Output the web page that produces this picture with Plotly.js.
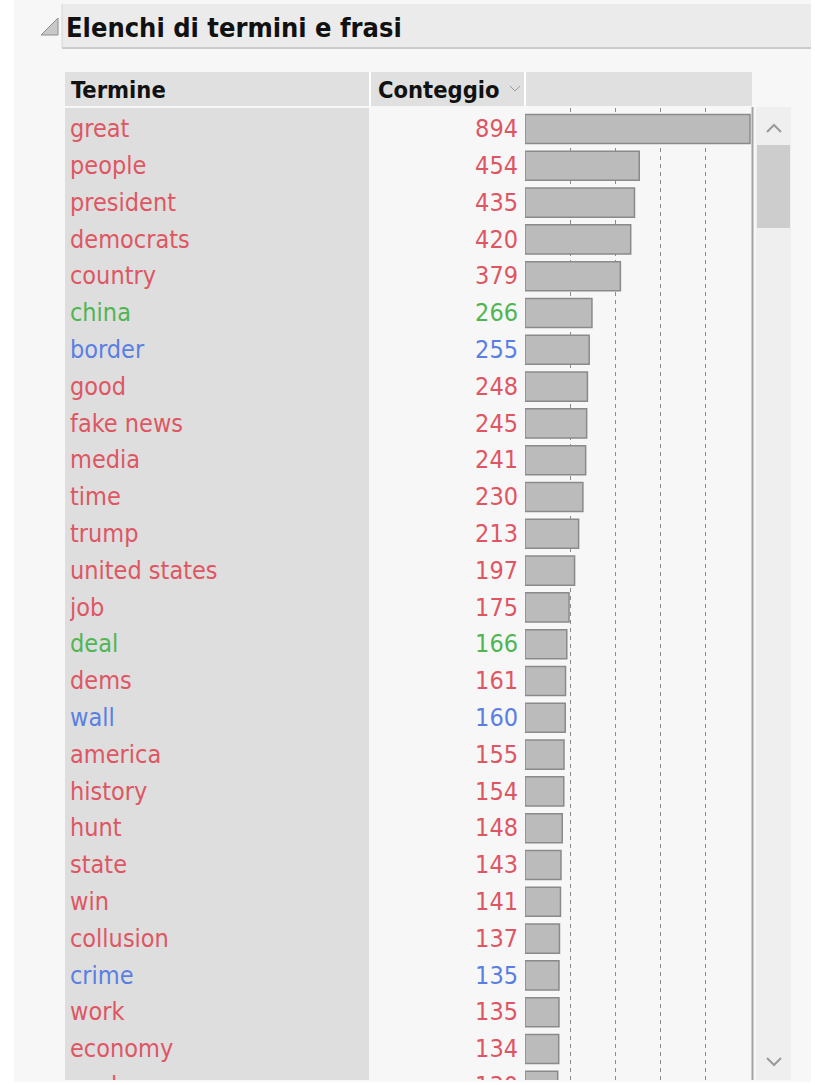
<!DOCTYPE html>
<html>
<head>
<meta charset="utf-8">
<script src="https://cdn.plot.ly/plotly-3.0.1.min.js"></script>
<style>html,body{margin:0;padding:0;background:#fff;}#chart{width:815px;height:1085px;}</style>
</head>
<body>
<div id="chart"></div>
<script>
// ---- data ----
const terms = ["great","people","president","democrats","country","china","border","good","fake news","media","time","trump","united states","job","deal","dems","wall","america","history","hunt","state","win","collusion","crime","work","economy","nuclear"];
const counts = [894,454,435,420,379,266,255,248,245,241,230,213,197,175,166,161,160,155,154,148,143,141,137,135,135,134,130];
const tones = ["r","r","r","r","r","g","b","r","r","r","r","r","r","r","g","r","b","r","r","r","r","r","r","b","r","r","r"];
const titleText = "Elenchi di termini e frasi";
const headerTerm = "Termine";
const headerCount = "Conteggio";

// ---- styling ----
const W = 815, H = 1085;
const FONT = '"Liberation Sans Narrow", "Arial Narrow", "DejaVu Sans Condensed", sans-serif';
const toneColor = {r: "#df5663", g: "#4fb553", b: "#5a7fe3"};
const colors = tones.map(t => toneColor[t]);
const px = v => v / W;
const py = v => 1 - v / H;
const P = (x, y) => px(x) + "," + py(y);

const rowTop = 108, rowBottom = 1080, firstCenter = 129, pitch = 36.8;
const yRange = [(rowBottom - firstCenter) / pitch, -(firstCenter - rowTop) / pitch];
const textShift = 2 / pitch;
const yRangeText = [yRange[0] - textShift, yRange[1] - textShift];
const maxVal = Math.max(...counts);
const barX0 = 525, barX1 = 752, barFull = 750;
const xMax = maxVal * (barX1 - barX0) / (barFull - barX0);
const gridVals = [1, 2, 3, 4].map(k => maxVal * k / 5);

const traces = [
  {
    type: "bar", orientation: "h", x: counts, y: terms,
    xaxis: "x", yaxis: "y", width: 0.79,
    marker: {color: "#bbbbbb", line: {color: "#8a8a8a", width: 1.5}},
    hoverinfo: "skip"
  },
  {
    type: "scatter", mode: "text", x: terms.map(() => 0), y: terms,
    xaxis: "x2", yaxis: "y2", text: terms, textposition: "middle right",
    textfont: {family: FONT, size: 25, color: colors}, hoverinfo: "skip", cliponaxis: true
  },
  {
    type: "scatter", mode: "text", x: counts.map(() => 1), y: terms,
    xaxis: "x3", yaxis: "y2", text: counts.map(String), textposition: "middle left",
    textfont: {family: FONT, size: 25, color: colors}, hoverinfo: "skip", cliponaxis: true
  }
];

const shapes = [
  {type: "rect", xref: "paper", yref: "paper", x0: px(14), x1: px(811), y0: py(1082), y1: py(0), fillcolor: "#f7f7f7", line: {width: 0}, layer: "below"},
  {type: "rect", xref: "paper", yref: "paper", x0: px(62), x1: px(811), y0: py(48), y1: py(4), fillcolor: "#ebebeb", line: {width: 0}, layer: "below"},
  {type: "line", xref: "paper", yref: "paper", x0: px(62), x1: px(811), y0: py(48), y1: py(48), line: {color: "#cbcbcb", width: 2}, layer: "below"},
  {type: "line", xref: "paper", yref: "paper", x0: px(62), x1: px(62), y0: py(4), y1: py(48), line: {color: "#d6d6d6", width: 1}, layer: "below"},
  {type: "path", xref: "paper", yref: "paper", path: "M" + P(41, 35) + "L" + P(58, 35) + "L" + P(58, 18) + "Z", fillcolor: "#c8c8c8", line: {color: "#8e8e8e", width: 1}, layer: "below"},
  {type: "rect", xref: "paper", yref: "paper", x0: px(65), x1: px(752), y0: py(106), y1: py(72), fillcolor: "#e0e0e0", line: {width: 0}, layer: "below"},
  {type: "line", xref: "paper", yref: "paper", x0: px(370), x1: px(370), y0: py(72), y1: py(106), line: {color: "#ffffff", width: 2}, layer: "below"},
  {type: "line", xref: "paper", yref: "paper", x0: px(525), x1: px(525), y0: py(72), y1: py(106), line: {color: "#ffffff", width: 2}, layer: "below"},
  {type: "rect", xref: "paper", yref: "paper", x0: px(65), x1: px(369), y0: py(1080), y1: py(108), fillcolor: "#dedede", line: {width: 0}, layer: "below"},
  {type: "path", xref: "paper", yref: "paper", path: "M" + P(510, 86) + "L" + P(515, 91) + "L" + P(520, 86), line: {color: "#9a9a9a", width: 1}, layer: "above"},
  {type: "rect", xref: "paper", yref: "paper", x0: px(756), x1: px(791), y0: py(1080), y1: py(107), fillcolor: "#efefef", line: {width: 0}, layer: "below"},
  {type: "rect", xref: "paper", yref: "paper", x0: px(757), x1: px(790), y0: py(228), y1: py(145), fillcolor: "#cdcdcd", line: {width: 0}, layer: "below"},
  {type: "path", xref: "paper", yref: "paper", path: "M" + P(767, 132) + "L" + P(774, 125) + "L" + P(781, 132), line: {color: "#9a9a9a", width: 2}, layer: "above"},
  {type: "path", xref: "paper", yref: "paper", path: "M" + P(767, 1058) + "L" + P(774, 1065) + "L" + P(781, 1058), line: {color: "#9a9a9a", width: 2}, layer: "above"},
  {type: "line", xref: "paper", yref: "paper", x0: px(752.5), x1: px(752.5), y0: py(107), y1: py(1080), line: {color: "#a3a3a3", width: 2}, layer: "above"}
];

const annotations = [
  {xref: "paper", yref: "paper", x: px(64), y: py(27), xanchor: "left", yanchor: "middle", showarrow: false,
   text: "<b>" + titleText + "</b>", font: {family: FONT, size: 27, color: "#111111"}},
  {xref: "paper", yref: "paper", x: px(69), y: py(90), xanchor: "left", yanchor: "middle", showarrow: false,
   text: "<b>" + headerTerm + "</b>", font: {family: FONT, size: 23.5, color: "#111111"}},
  {xref: "paper", yref: "paper", x: px(502), y: py(90), xanchor: "right", yanchor: "middle", showarrow: false,
   text: "<b>" + headerCount + "</b>", font: {family: FONT, size: 23.5, color: "#111111"}}
];

const layout = {
  width: W, height: H,
  margin: {l: 0, r: 0, t: 0, b: 0, pad: 0},
  paper_bgcolor: "#ffffff", plot_bgcolor: "rgba(0,0,0,0)",
  showlegend: false, bargap: 0,
  xaxis: {domain: [px(barX0), px(barX1)], range: [0, xMax], side: "top",
          tickvals: gridVals, showgrid: true, gridcolor: "#8a8a8a", griddash: "4px,4px", gridwidth: 1,
          ticks: "inside", ticklen: 4, tickcolor: "#8a8a8a", showticklabels: false,
          zeroline: false, showline: false, fixedrange: true},
  xaxis2: {domain: [px(70), px(369)], range: [0, 1], visible: false, fixedrange: true},
  xaxis3: {domain: [px(371), px(518)], range: [0, 1], visible: false, fixedrange: true},
  yaxis: {domain: [py(rowBottom), py(rowTop)], type: "category", categoryorder: "array", categoryarray: terms,
          range: yRange, showgrid: false, showticklabels: false, zeroline: false, showline: false, ticks: "", fixedrange: true},
  yaxis2: {domain: [py(rowBottom), py(rowTop)], type: "category", categoryorder: "array", categoryarray: terms,
          range: yRangeText, overlaying: "y", visible: false, fixedrange: true},
  shapes: shapes,
  annotations: annotations
};

Plotly.newPlot("chart", traces, layout, {displayModeBar: false, staticPlot: true});
</script>
</body>
</html>
